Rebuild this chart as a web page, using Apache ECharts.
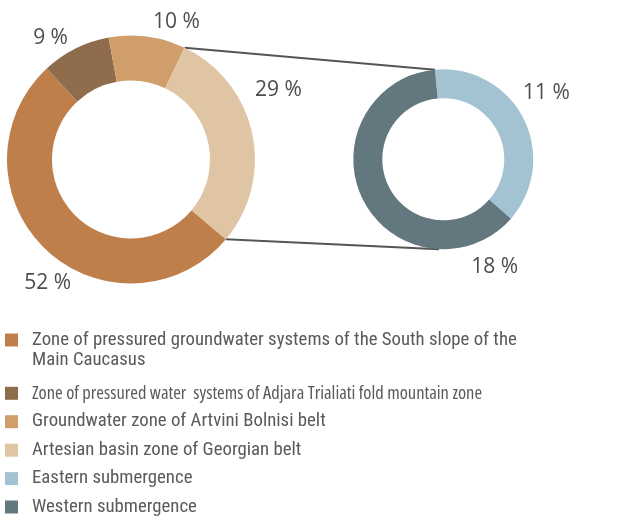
<!DOCTYPE html>
<html><head><meta charset="utf-8">
<script src="https://cdn.jsdelivr.net/npm/echarts@6/dist/echarts.min.js"></script>
<style>html,body{margin:0;padding:0;background:#fff}#c{width:622px;height:519px}</style>
</head><body><div id="c"></div>
<script>
// ---- data ----
const mainNames = [
  'Zone of pressured groundwater systems of the South slope of the Main Caucasus',
  'Zone of pressured water  systems of Adjara Trialiati fold mountain zone',
  'Groundwater zone of Artvini Bolnisi belt',
  'Artesian basin zone of Georgian belt'
];
const mainValues = [52, 9, 10, 29];
const subNames = ['Eastern submergence', 'Western submergence'];
const subValues = [11, 18];

// ---- styles ----
const mainColors = ['#BE7F4B', '#8E6C4C', '#D09E6A', '#E0C5A5'];
const subColors = ['#A3C3D3', '#63777F'];
const mainLabelShift = [[25.6, 33.7], [-7.5, -10.9], [5.6, -14.9], [2.8, -43.3]];
const subLabelShift = [[-0.5, -25.4], [155, 67]];
const legendIconCenters = [340, 393.3, 421.7, 450.2, 478.6, 507];

const labelStyle = {
  show: true, position: 'outside', formatter: p => p.value + ' %',
  fontFamily: 'Open Sans', fontSize: 21, color: '#4d4d4d', distanceToLabelLine: 0
};

const chart = echarts.init(document.getElementById('c'), null, {renderer: 'canvas'});
const allNames = mainNames.concat(subNames);
const legends = allNames.map((n, i) => {
  const first = i === 0;
  const narrow = i === 1;
  return {
    data: [n], left: 5, top: first ? legendIconCenters[i] - 30 : legendIconCenters[i] - 10,
    orient: 'vertical', padding: 0, itemWidth: 13, itemHeight: 13, icon: 'rect',
    selectedMode: false,
    // long first entry wraps; a leading blank line keeps its first line level with the swatch
    formatter: name => name.indexOf(' of the Main') >= 0 ? '\n' + name.replace(' of the Main', ' of the\nMain') : name,
    textStyle: {
      fontFamily: narrow ? '"Open Sans"' : 'Roboto',
      fontWeight: 'normal condensed',
      fontSize: narrow ? 18.5 : 18.8, color: '#5a5a5a', lineHeight: 20,
      padding: [0, 0, 0, 9]
    }
  };
});

chart.setOption({
  animation: false,
  legend: legends,
  series: [
    {
      type: 'pie', center: [131, 159.5], radius: [79, 124], startAngle: -40,
      avoidLabelOverlap: false, silent: true,
      label: labelStyle, labelLine: {show: false, length: 0, length2: 0},
      labelLayout: p => ({dx: mainLabelShift[p.dataIndex][0], dy: mainLabelShift[p.dataIndex][1]}),
      data: mainNames.map((n, i) => ({name: n, value: mainValues[i], itemStyle: {color: mainColors[i]}}))
    },
    {
      type: 'pie', center: [443.3, 159.3], radius: [61, 90], startAngle: 95.3,
      avoidLabelOverlap: false, silent: true,
      label: labelStyle, labelLine: {show: false, length: 0, length2: 0},
      labelLayout: p => ({dx: subLabelShift[p.dataIndex][0], dy: subLabelShift[p.dataIndex][1]}),
      data: subNames.map((n, i) => ({name: n, value: subValues[i], itemStyle: {color: subColors[i]}}))
    }
  ]
});

// connector lines, built from the library's own pie layout
(function drawConnectors() {
  const m = chart.getModel();
  const L = m.getSeriesByIndex(0).getData().getItemLayout(3);
  const R = m.getSeriesByIndex(1).getData().getItemLayout(0);
  const p1 = [L.cx + L.r * Math.cos(L.startAngle), L.cy + L.r * Math.sin(L.startAngle)];
  const p2 = [L.cx + L.r * Math.cos(L.endAngle), L.cy + L.r * Math.sin(L.endAngle)];
  const q1 = [R.cx + R.r * Math.cos(R.startAngle), R.cy + R.r * Math.sin(R.startAngle)];
  const dx = p2[0] - R.cx, dy = p2[1] - R.cy, d = Math.hypot(dx, dy);
  const phi = Math.atan2(dy, dx), a = Math.acos(R.r / d);
  const c1 = [R.cx + R.r * Math.cos(phi - a), R.cy + R.r * Math.sin(phi - a)];
  const c2 = [R.cx + R.r * Math.cos(phi + a), R.cy + R.r * Math.sin(phi + a)];
  const q2 = c1[1] > c2[1] ? c1 : c2;
  const zr = chart.getZr();
  [[p1, q1], [p2, q2]].forEach(([s, e]) => {
    zr.add(new echarts.graphic.Line({
      shape: {x1: s[0], y1: s[1], x2: e[0], y2: e[1]},
      style: {stroke: '#555', lineWidth: 2}, z: 1, silent: true
    }));
  });
})();
</script></body></html>
